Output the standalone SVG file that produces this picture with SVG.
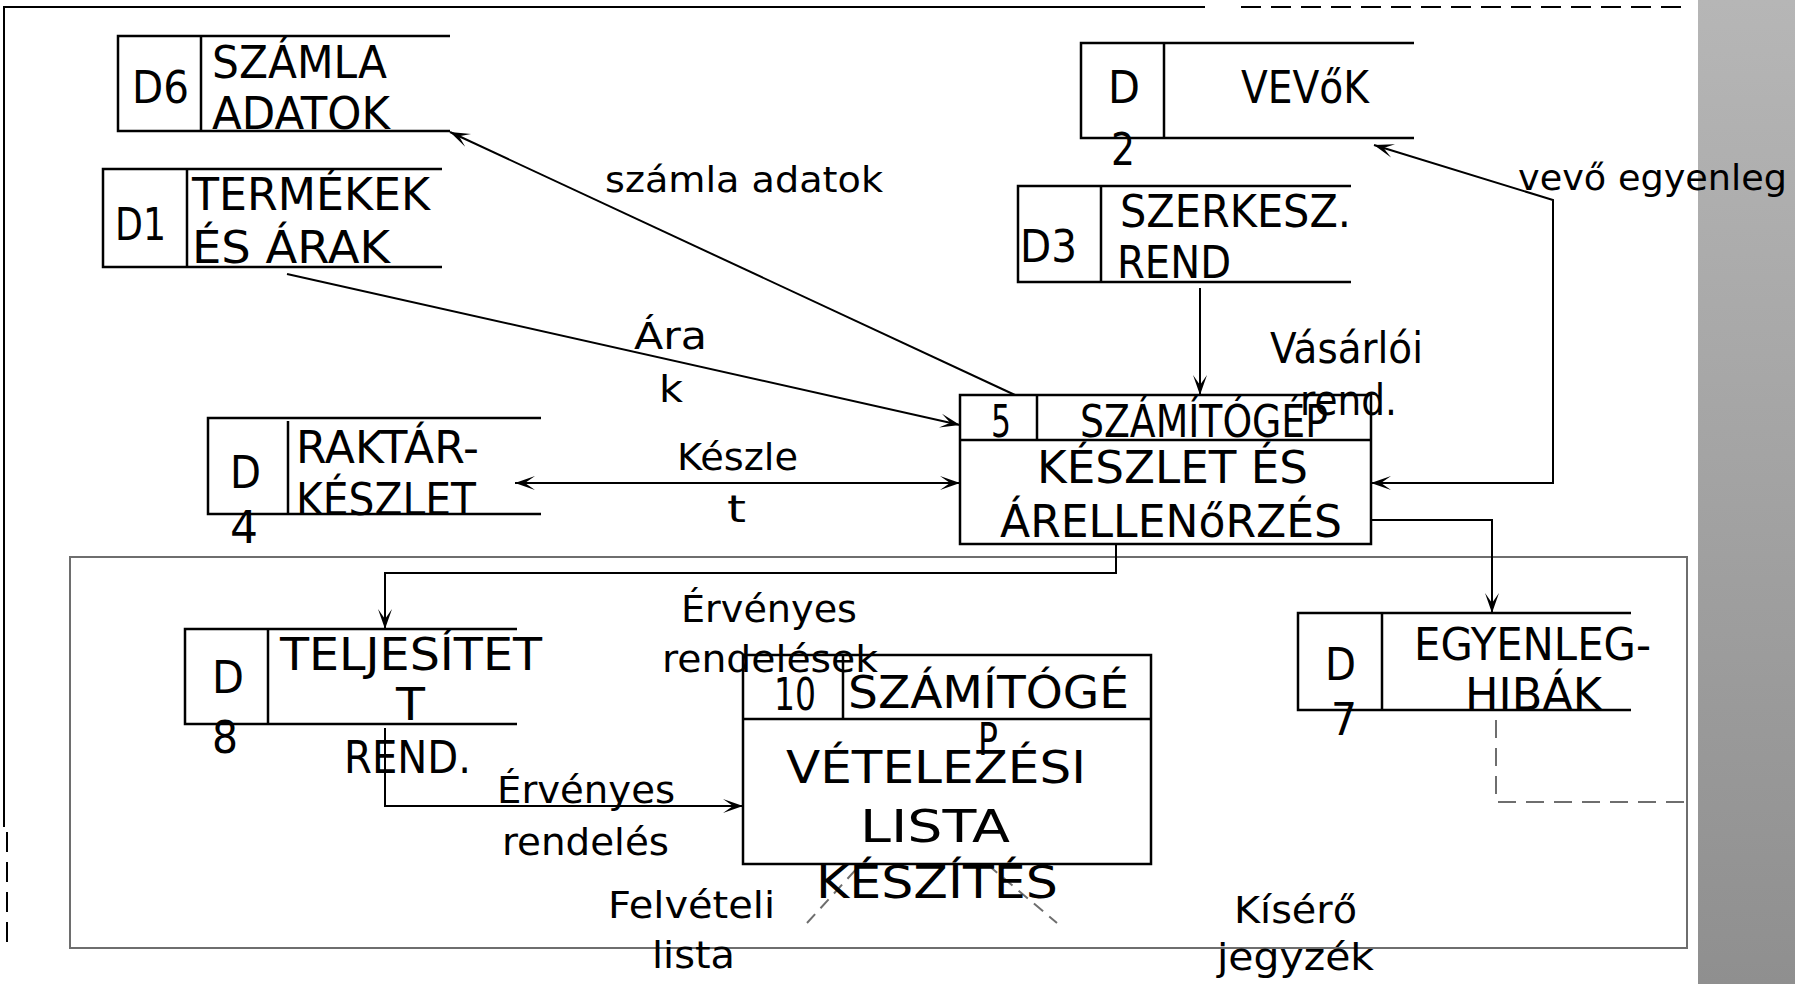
<svg xmlns="http://www.w3.org/2000/svg" width="1795" height="984" viewBox="0 0 1795 984">
<style>
text{font-family:"DejaVu Sans","Liberation Sans",sans-serif;fill:#000;}
.st{font-size:44px;}
.pr{font-size:44px;}
.fl{font-size:38px;}
.box{fill:none;stroke:#000;stroke-width:2.5;}
.cn{fill:none;stroke:#000;stroke-width:2;}
.gd{fill:none;stroke:#6e6e6e;stroke-width:2;}
</style>
<defs>
<linearGradient id="strip" x1="0" y1="0" x2="0" y2="1">
<stop offset="0" stop-color="#b6b6b6"/>
<stop offset="1" stop-color="#8f8f8f"/>
</linearGradient>
<marker id="ah" markerWidth="20" markerHeight="16" refX="20" refY="8" orient="auto-start-reverse" markerUnits="userSpaceOnUse">
<path d="M0,1 L20,8 L0,15 L10,8 Z" fill="#000"/>
</marker>
</defs>
<rect width="1795" height="984" fill="#fff"/>
<rect x="1698" y="0" width="97" height="984" fill="url(#strip)"/>
<g id="frame">
<path d="M4,827 V7 H1205" fill="none" stroke="#000" stroke-width="2"/>
<path d="M1241,7 H1685" fill="none" stroke="#000" stroke-width="2" stroke-dasharray="20 10"/>
<path d="M7,832 V948" fill="none" stroke="#000" stroke-width="2" stroke-dasharray="20 10"/>
</g>
<g id="container">
<rect x="70" y="557" width="1617" height="391" fill="none" stroke="#6e6e6e" stroke-width="2"/>
</g>
<g id="connectors">
<path class="cn" d="M1015,395 L450,132" marker-end="url(#ah)"/>
<path class="cn" d="M287,274 L960,425" marker-end="url(#ah)"/>
<path class="cn" d="M515,483 H960" marker-start="url(#ah)" marker-end="url(#ah)"/>
<path class="cn" d="M1200,288 V395" marker-end="url(#ah)"/>
<path class="cn" d="M1371,483 H1553 V200 L1374,145" marker-start="url(#ah)" marker-end="url(#ah)"/>
<path class="cn" d="M1371,520 H1492 V613" marker-end="url(#ah)"/>
<path class="cn" d="M1116,544 V573 H385 V629" marker-end="url(#ah)"/>
<path class="cn" d="M385,728 V806 H743" marker-end="url(#ah)"/>
<path class="gd" d="M1496,720 V802 H1685" stroke-dasharray="18 10"/>
<path class="gd" d="M807,923 L860,865" stroke-dasharray="12 8"/>
<path class="gd" d="M988,865 L1057,923" stroke-dasharray="12 8"/>
</g>
<g id="d6">
<path class="box" d="M450,36 H118 V131 H450 M201,36 V131"/>
<text class="st" x="132" y="103" textLength="57" lengthAdjust="spacingAndGlyphs">D6</text>
<text class="st" x="212" y="78" textLength="175" lengthAdjust="spacingAndGlyphs">SZÁMLA</text>
<text class="st" x="212" y="129" textLength="178" lengthAdjust="spacingAndGlyphs">ADATOK</text>
</g>
<g id="d1">
<path class="box" d="M442,169 H103 V267 H442 M187,169 V267"/>
<text class="st" x="115" y="240" textLength="51" lengthAdjust="spacingAndGlyphs">D1</text>
<text class="st" x="192" y="210" textLength="238" lengthAdjust="spacingAndGlyphs">TERMÉKEK</text>
<text class="st" x="192" y="263" textLength="198" lengthAdjust="spacingAndGlyphs">ÉS ÁRAK</text>
</g>
<g id="d2">
<path class="box" d="M1414,43 H1081 V138 H1414 M1164,43 V138"/>
<text class="st" x="1108" y="103" textLength="32" lengthAdjust="spacingAndGlyphs">D</text>
<text class="st" x="1111" y="165" textLength="24" lengthAdjust="spacingAndGlyphs">2</text>
<text class="st" x="1241" y="103" textLength="128" lengthAdjust="spacingAndGlyphs">VEVőK</text>
</g>
<g id="d3">
<path class="box" d="M1351,186 H1018 V282 H1351 M1101,186 V282"/>
<text class="st" x="1020" y="262" textLength="57" lengthAdjust="spacingAndGlyphs">D3</text>
<text class="st" x="1120" y="227" textLength="231" lengthAdjust="spacingAndGlyphs">SZERKESZ.</text>
<text class="st" x="1117" y="278" textLength="114" lengthAdjust="spacingAndGlyphs">REND</text>
</g>
<g id="d4">
<path class="box" d="M541,418 H208 V514 H541 M288,421 V514"/>
<text class="st" x="230" y="488" textLength="31" lengthAdjust="spacingAndGlyphs">D</text>
<text class="st" x="230" y="543" textLength="28" lengthAdjust="spacingAndGlyphs">4</text>
<text class="st" x="296" y="463" textLength="183" lengthAdjust="spacingAndGlyphs">RAKTÁR-</text>
<text class="st" x="296" y="515" textLength="180" lengthAdjust="spacingAndGlyphs">KÉSZLET</text>
</g>
<g id="d7">
<path class="box" d="M1631,613 H1298 V710 H1631 M1382,613 V710"/>
<text class="st" x="1325" y="680" textLength="31" lengthAdjust="spacingAndGlyphs">D</text>
<text class="st" x="1331" y="735" textLength="26" lengthAdjust="spacingAndGlyphs">7</text>
<text class="st" x="1414" y="660" textLength="237" lengthAdjust="spacingAndGlyphs">EGYENLEG-</text>
<text class="st" x="1465" y="710" textLength="137" lengthAdjust="spacingAndGlyphs">HIBÁK</text>
</g>
<g id="d8">
<path class="box" d="M517,629 H185 V724 H517 M268,629 V724"/>
<text class="st" x="212" y="693" textLength="32" lengthAdjust="spacingAndGlyphs">D</text>
<text class="st" x="212" y="753" textLength="26" lengthAdjust="spacingAndGlyphs">8</text>
<text class="st" x="280" y="670" textLength="262" lengthAdjust="spacingAndGlyphs">TELJESÍTET</text>
<text class="st" x="396" y="720" textLength="29" lengthAdjust="spacingAndGlyphs">T</text>
<text class="st" x="344" y="773" textLength="127" lengthAdjust="spacingAndGlyphs">REND.</text>
</g>
<g id="p5">
<rect class="box" x="960" y="395" width="411" height="149"/>
<path class="box" d="M960,440 H1371 M1037,395 V440"/>
<text class="pr" x="991" y="437" textLength="20" lengthAdjust="spacingAndGlyphs">5</text>
<text class="pr" x="1080" y="437" textLength="248" lengthAdjust="spacingAndGlyphs">SZÁMÍTÓGÉP</text>
<text class="pr" x="1037" y="483" textLength="271" lengthAdjust="spacingAndGlyphs">KÉSZLET ÉS</text>
<text class="pr" x="1000" y="537" textLength="342" lengthAdjust="spacingAndGlyphs">ÁRELLENőRZÉS</text>
</g>
<g id="p10">
<rect class="box" x="743" y="655" width="408" height="209"/>
<path class="box" d="M743,719 H1151 M843,655 V719"/>
<text class="pr" x="774" y="710" textLength="42" lengthAdjust="spacingAndGlyphs">10</text>
<text class="pr" x="848" y="708" textLength="281" lengthAdjust="spacingAndGlyphs">SZÁMÍTÓGÉ</text>
<text class="pr" x="978" y="755" textLength="20" lengthAdjust="spacingAndGlyphs">P</text>
<text class="pr" x="786" y="783" textLength="300" lengthAdjust="spacingAndGlyphs">VÉTELEZÉSI</text>
<text class="pr" x="860" y="842" textLength="150" lengthAdjust="spacingAndGlyphs">LISTA</text>
<text class="pr" x="816" y="898" textLength="242" lengthAdjust="spacingAndGlyphs">KÉSZÍTÉS</text>
</g>
<g id="flow-labels">
<text class="fl" style="font-size:36px" x="605" y="192" textLength="278" lengthAdjust="spacingAndGlyphs">számla adatok</text>
<text class="fl" x="634" y="349" textLength="73" lengthAdjust="spacingAndGlyphs">Ára</text>
<text class="fl" x="659" y="402" textLength="24" lengthAdjust="spacingAndGlyphs">k</text>
<text class="fl" x="677" y="470" textLength="121" lengthAdjust="spacingAndGlyphs">Készle</text>
<text class="fl" x="727" y="522" textLength="19" lengthAdjust="spacingAndGlyphs">t</text>
<text class="fl" style="font-size:42px" x="1270" y="363" textLength="153" lengthAdjust="spacingAndGlyphs">Vásárlói</text>
<text class="fl" style="font-size:42px" x="1300" y="415" textLength="97" lengthAdjust="spacingAndGlyphs">rend.</text>
<text class="fl" style="font-size:36px" x="1518" y="190" textLength="269" lengthAdjust="spacingAndGlyphs">vevő egyenleg</text>
<text class="fl" x="681" y="622" textLength="176" lengthAdjust="spacingAndGlyphs">Érvényes</text>
<text class="fl" x="662" y="672" textLength="216" lengthAdjust="spacingAndGlyphs">rendelések</text>
<text class="fl" x="497" y="803" textLength="178" lengthAdjust="spacingAndGlyphs">Érvényes</text>
<text class="fl" x="502" y="855" textLength="167" lengthAdjust="spacingAndGlyphs">rendelés</text>
<text class="fl" x="608" y="918" textLength="167" lengthAdjust="spacingAndGlyphs">Felvételi</text>
<text class="fl" x="652" y="968" textLength="83" lengthAdjust="spacingAndGlyphs">lista</text>
<text class="fl" x="1234" y="923" textLength="123" lengthAdjust="spacingAndGlyphs">Kísérő</text>
<text class="fl" x="1217" y="970" textLength="157" lengthAdjust="spacingAndGlyphs">jegyzék</text>
</g>
</svg>
